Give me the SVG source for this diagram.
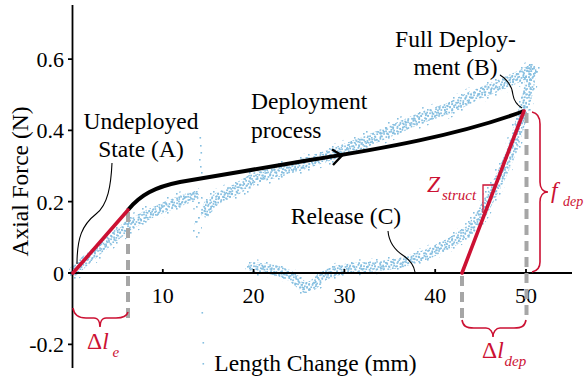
<svg xmlns="http://www.w3.org/2000/svg" width="586" height="384" viewBox="0 0 586 384" font-family="'Liberation Serif', 'Times New Roman', Times, serif">
<style>
text{font-family:"Liberation Serif","Times New Roman",Times,serif;fill:#000}
.lbl{font-size:23.5px}
.tick{font-size:22px}
.red{fill:#cc1133}
.it{font-style:italic}
.sub{font-size:15px;font-style:italic}
.dot{fill:#86bfe0}
.band{fill:none;stroke-linecap:round;stroke-linejoin:round}
.axis{stroke:#000;stroke-width:1.8;fill:none}
.tk{stroke:#000;stroke-width:1.8}
.dash{stroke:#a6a6a6;stroke-width:4;stroke-dasharray:10 6;fill:none}
.lead{stroke:#000;stroke-width:1.1;fill:none}
.brace{stroke:#cc1133;stroke-width:1.6;fill:none}
.fit{stroke:#cc1133;stroke-width:3.6;fill:none;stroke-linecap:round}
</style>
<defs>
<pattern id="pA" width="11" height="9" patternUnits="userSpaceOnUse">
<rect class="dot" x="0.5" y="1.2" width="1.7" height="1.7"/>
<rect class="dot" x="3.6" y="5.1" width="1.7" height="1.7"/>
<rect class="dot" x="6.2" y="0.4" width="1.7" height="1.7"/>
<rect class="dot" x="8.3" y="3.7" width="1.7" height="1.7"/>
<rect class="dot" x="9.2" y="7.1" width="1.7" height="1.7"/>
<rect class="dot" x="2.4" y="7.4" width="1.7" height="1.7"/>
<rect class="dot" x="5.5" y="3.0" width="1.7" height="1.7"/>
<rect class="dot" x="0.2" y="4.4" width="1.7" height="1.7"/>
<rect class="dot" x="7" y="6.4" width="1.7" height="1.7"/>
</pattern>
<pattern id="pB" width="7" height="13" patternUnits="userSpaceOnUse">
<rect class="dot" x="1.2" y="2.5" width="1.7" height="1.7"/>
<rect class="dot" x="4.7" y="8.8" width="1.7" height="1.7"/>
<rect class="dot" x="0.3" y="10.9" width="1.7" height="1.7"/>
<rect class="dot" x="3.1" y="5.6" width="1.7" height="1.7"/>
<rect class="dot" x="5.2" y="0.9" width="1.7" height="1.7"/>
</pattern>
<pattern id="pD" width="13" height="5" patternUnits="userSpaceOnUse">
<rect class="dot" x="2.5" y="1.5" width="1.6" height="1.6"/>
<rect class="dot" x="9.5" y="3.2" width="1.6" height="1.6"/>
</pattern>
<pattern id="pC" width="17" height="15" patternUnits="userSpaceOnUse">
<rect class="dot" x="2" y="4" width="1.6" height="1.6"/>
<rect class="dot" x="9" y="11" width="1.6" height="1.6"/>
<rect class="dot" x="14" y="2" width="1.6" height="1.6"/>
<rect class="dot" x="6" y="13" width="1.6" height="1.6"/>
<rect class="dot" x="11" y="7" width="1.6" height="1.6"/>
</pattern>
</defs>

<g id="scatter">
<path class="band" stroke="url(#pC)" stroke-width="18" d="M76,270 L85,261 L100,248 L115,236 L128,226 L147,215 L165,207 L180,201 L194,196"/>
<path class="band" stroke="url(#pA)" stroke-width="10" d="M74,271 L85,261 L100,248 L115,236 L128,226 L147,215 L165,207 L180,201 L194,196"/>
<path class="band" stroke="url(#pB)" stroke-width="10" d="M74,271 L85,261 L100,248 L115,236 L128,226 L147,215 L165,207 L180,201 L194,196"/>
<path class="band" stroke="url(#pD)" stroke-width="7" d="M74,271 L85,261 L100,248 L115,236 L128,226 L147,215 L165,207 L180,201 L194,196"/>
<path class="band" stroke="url(#pC)" stroke-width="7" d="M196,198 L199,236"/>
<path class="band" stroke="url(#pC)" stroke-width="19" d="M206,212 L209,205 L218,198 L235,190 L255,178 L280,171 L300,165 L333,154 L367,141 L400,127 L423,117 L450,108 L473,96 L500,85 L520,76 L531,70"/>
<path class="band" stroke="url(#pA)" stroke-width="11" d="M206,212 L209,205 L218,198 L235,190 L255,178 L280,171 L300,165 L333,154 L367,141 L400,127 L423,117 L450,108 L473,96 L500,85 L520,76 L531,70"/>
<path class="band" stroke="url(#pB)" stroke-width="11" d="M206,212 L209,205 L218,198 L235,190 L255,178 L280,171 L300,165 L333,154 L367,141 L400,127 L423,117 L450,108 L473,96 L500,85 L520,76 L531,70"/>
<path class="band" stroke="url(#pD)" stroke-width="7" d="M206,212 L209,205 L218,198 L235,190 L255,178 L280,171 L300,165 L333,154 L367,141 L400,127 L423,117 L450,108 L473,96 L500,85 L520,76 L531,70"/>
<path class="band" stroke="url(#pC)" stroke-width="16" d="M531,72 L529,88 L525,104 L519,127 L511,153 L501,176 L491,196 L482,213 L471,229 L452,242 L428,254 L400,263 L380,266 L350,268 L335,271 L323,276 L313,285 L305,288 L297,281 L289,275 L275,270 L260,268 L253,267"/>
<path class="band" stroke="url(#pA)" stroke-width="10" d="M531,72 L529,88 L525,104 L519,127 L511,153 L501,176 L491,196 L482,213 L471,229 L452,242 L428,254 L400,263 L380,266 L350,268 L335,271 L323,276 L313,285 L305,288 L297,281 L289,275 L275,270 L260,268 L253,267"/>
<path class="band" stroke="url(#pB)" stroke-width="10" d="M531,72 L529,88 L525,104 L519,127 L511,153 L501,176 L491,196 L482,213 L471,229 L452,242 L428,254 L400,263 L380,266 L350,268 L335,271 L323,276 L313,285 L305,288 L297,281 L289,275 L275,270 L260,268 L253,267"/>
<path class="band" stroke="url(#pD)" stroke-width="6" d="M531,72 L529,88 L525,104 L519,127 L511,153 L501,176 L491,196 L482,213 L471,229 L452,242 L428,254 L400,263 L380,266 L350,268 L335,271 L323,276 L313,285 L305,288 L297,281 L289,275 L275,270 L260,268 L253,267"/>
<g class="dot">
<rect x="199.5" y="137" width="1.6" height="1.6"/>
<rect x="200" y="145" width="1.6" height="1.6"/>
<rect x="200.5" y="152" width="1.6" height="1.6"/>
<rect x="199" y="159" width="1.6" height="1.6"/>
<rect x="200" y="166" width="1.6" height="1.6"/>
<rect x="201" y="172" width="1.6" height="1.6"/>
<rect x="201.5" y="312" width="1.6" height="1.6"/>
<rect x="202.5" y="342" width="1.6" height="1.6"/>
<rect x="202.5" y="363" width="1.6" height="1.6"/>
<rect x="74" y="277" width="1.6" height="1.6"/>
<rect x="193" y="230" width="1.6" height="1.6"/>
<rect x="195" y="221" width="1.6" height="1.6"/>
<rect x="531" y="64" width="1.6" height="1.6"/>
<rect x="527" y="66" width="1.6" height="1.6"/>
</g>
</g>

<g id="axes">
<path class="axis" d="M72.5,5 V368 M72,273 H572"/>
<path class="tk" d="M68,59.1 H73 M68,130.4 H73 M68,201.7 H73 M68,344.3 H73 M68,273 H73 M162.8,269 V273 M253.6,269 V273 M344.4,269 V273 M435.2,269 V273 M526,269 V273"/>
<g text-anchor="end">
<text class="tick" x="64" y="67">0.6</text>
<text class="tick" x="64" y="138.4">0.4</text>
<text class="tick" x="64" y="209.7">0.2</text>
<text class="tick" x="64" y="281">0</text>
<text class="tick" x="64" y="352.3">-0.2</text>
</g>
<g text-anchor="middle">
<text class="tick" x="162.8" y="303">10</text>
<text class="tick" x="253.6" y="303">20</text>
<text class="tick" x="344.4" y="303">30</text>
<text class="tick" x="435.2" y="303">40</text>
<text class="tick" x="526" y="303">50</text>
</g>
<text class="lbl" text-anchor="middle" x="315.5" y="371">Length Change (mm)</text>
<text class="lbl" text-anchor="middle" transform="translate(27.5,181.5) rotate(-90)">Axial Force (N)</text>
</g>

<g id="guides">
<path class="dash" d="M128,212 V318 M462,276 V318 M526.5,113 V318"/>
</g>

<g id="deployment-curve">
<path d="M128,210 C140,195 155,187 180,182 C220,175 270,167 310,160 C380,149 460,135 524,111" stroke="#000" stroke-width="4" fill="none"/>
<path d="M332,149.5 L342,155.5 L333,165" stroke="#000" stroke-width="2.4" fill="none"/>
</g>

<g id="fits">
<path class="fit" d="M73,273 L128,210"/>
<path class="fit" d="M462,273 L524,111"/>
<path d="M483,213 V185 H496" stroke="#cc1133" stroke-width="1.3" fill="none"/>
</g>

<g id="braces">
<path class="brace" d="M73,308 C74,315 78,318 86,318 L94,318 C98,318 100,322 100,327 C100,322 102,318 106,318 L116,318 C123,318 127,316 128,312"/>
<path class="brace" d="M462,320 C463,326 466,328 474,328 L486,328 C490,328 493,332 493,337 C493,332 496,328 500,328 L514,328 C522,328 525,326 526,320"/>
<path class="brace" d="M532,112 C537,113 540,117 540,124 L540,182 C540,188 543,192 548,192 C543,192 540,196 540,202 L540,262 C540,268 537,271 532,272"/>
</g>

<g id="leaders">
<path class="lead" d="M112,163 C111,185 108,205 96,214 C82,225 77,238 77,264"/>
<path class="lead" d="M500,75 C508,80 512,86 513,95 C514,101 517,105 522,108"/>
<path class="lead" d="M388,231 C389,243 396,251 404,256 C411,261 414,266 415,272"/>
</g>

<g id="labels">
<g id="label-undeployed" text-anchor="middle">
<text class="lbl" x="141" y="129">Undeployed</text>
<text class="lbl" x="141" y="157">State (A)</text>
</g>
<g id="label-deployment">
<text class="lbl" x="251" y="109">Deployment</text>
<text class="lbl" x="251" y="138">process</text>
</g>
<g id="label-full" text-anchor="middle">
<text class="lbl" x="455.5" y="47">Full Deploy-</text>
<text class="lbl" x="455.5" y="75">ment (B)</text>
</g>
<g id="label-release">
<text class="lbl" text-anchor="middle" x="346" y="224">Release (C)</text>
</g>
<g id="label-dle">
<text class="lbl red" x="87" y="349">Δ<tspan class="it">l</tspan></text>
<text class="sub red" x="112.5" y="357">e</text>
</g>
<g id="label-dldep">
<text class="lbl red" x="482" y="358">Δ<tspan class="it">l</tspan></text>
<text class="sub red" x="504.5" y="366">dep</text>
</g>
<g id="label-fdep">
<text class="lbl red it" x="551" y="198">f</text>
<text class="sub red" x="563" y="206" style="font-size:14px">dep</text>
</g>
<g id="label-zstruct">
<text class="lbl red it" x="427" y="192">Z</text>
<text class="sub red" x="442" y="200">struct</text>
</g>
</g>
</svg>
